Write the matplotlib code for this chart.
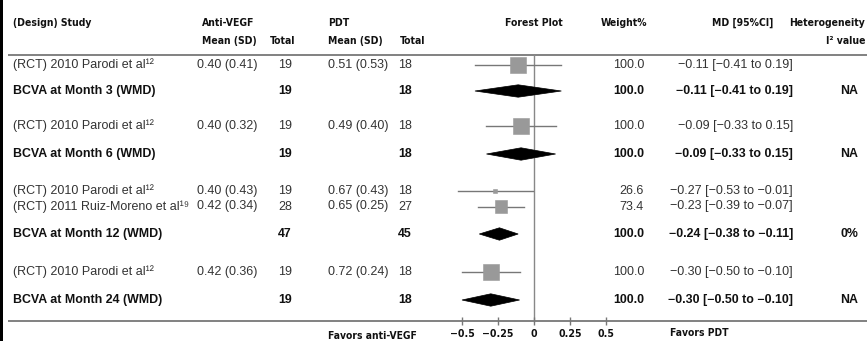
import matplotlib
matplotlib.use("Agg")
import matplotlib.pyplot as plt
from matplotlib.patches import Rectangle, Polygon

plt.rcParams['font.family'] = ['Liberation Sans', 'DejaVu Sans']

# ---------------- data ----------------
row_labels = ["(RCT) 2010 Parodi et al\u00b9\u00b2", "BCVA at Month 3 (WMD)",
              "(RCT) 2010 Parodi et al\u00b9\u00b2", "BCVA at Month 6 (WMD)",
              "(RCT) 2010 Parodi et al\u00b9\u00b2", "(RCT) 2011 Ruiz-Moreno et al\u00b9\u2079",
              "BCVA at Month 12 (WMD)",
              "(RCT) 2010 Parodi et al\u00b9\u00b2", "BCVA at Month 24 (WMD)"]
row_pooled = [False, True, False, True, False, False, True, False, True]
antivegf_msd = ["0.40 (0.41)", "", "0.40 (0.32)", "", "0.40 (0.43)", "0.42 (0.34)", "", "0.42 (0.36)", ""]
antivegf_n = [19, 19, 19, 19, 19, 28, 47, 19, 19]
pdt_msd = ["0.51 (0.53)", "", "0.49 (0.40)", "", "0.67 (0.43)", "0.65 (0.25)", "", "0.72 (0.24)", ""]
pdt_n = [18, 18, 18, 18, 18, 27, 45, 18, 18]
md = [-0.11, -0.11, -0.09, -0.09, -0.27, -0.23, -0.24, -0.30, -0.30]
ci_lo = [-0.41, -0.41, -0.33, -0.33, -0.53, -0.39, -0.38, -0.50, -0.50]
ci_hi = [0.19, 0.19, 0.15, 0.15, -0.01, -0.07, -0.11, -0.10, -0.10]
weight = [100.0, 100.0, 100.0, 100.0, 26.6, 73.4, 100.0, 100.0, 100.0]
heterogeneity = ["", "NA", "", "NA", "", "", "0%", "", "NA"]
xticks = [-0.5, -0.25, 0, 0.25, 0.5]
xtick_labels = ["\u22120.5", "\u22120.25", "0", "0.25", "0.5"]

# ---------------- layout (pixels) ----------------
W, H = 867, 341
row_y = [65, 91, 126, 154, 191, 206.5, 234, 272, 300]
zero_px, px_per_unit = 534, 144.0
fx0, fx1 = 440, 640
axis_y = 321

fig = plt.figure(figsize=(W / 100, H / 100), dpi=100)
bg = fig.add_axes([0, 0, 1, 1])
bg.set_xlim(0, W)
bg.set_ylim(H, 0)
bg.axis('off')

ax = fig.add_axes([fx0 / W, 0, (fx1 - fx0) / W, 1])
ax.set_xlim((fx0 - zero_px) / px_per_unit, (fx1 - zero_px) / px_per_unit)
ax.set_ylim(H, 0)
ax.axis('off')
ax.patch.set_alpha(0)

hkw = dict(family=['DejaVu Sans'], fontstretch='condensed', fontweight='bold',
           fontsize=7.5, color='#111111', va='center')

# left black border strip
bg.add_patch(Rectangle((0, 0), 3, H, color='black', lw=0))

# headers
bg.text(13, 23, "(Design) Study", ha='left', **hkw)
bg.text(202, 23, "Anti-VEGF", ha='left', **hkw)
bg.text(202, 41, "Mean (SD)", ha='left', **hkw)
bg.text(283, 41, "Total", ha='center', **hkw)
bg.text(328, 23, "PDT", ha='left', **hkw)
bg.text(328, 41, "Mean (SD)", ha='left', **hkw)
bg.text(413, 41, "Total", ha='center', **hkw)
ax.text(0, 23, "Forest Plot", ha='center', **hkw)
bg.text(624, 23, "Weight%", ha='center', **hkw)
bg.text(773, 23, "MD [95%CI]", ha='right', **hkw)
bg.text(865, 23, "Heterogeneity", ha='right', **hkw)
bg.text(865, 41, "I\u00b2 value", ha='right', **hkw)

# rules
bg.plot([8, W], [55, 55], color='#777777', lw=1.3, solid_capstyle='butt')
bg.plot([8, W], [axis_y, axis_y], color='#777777', lw=1.3, solid_capstyle='butt')
ax.plot([0, 0], [55, axis_y], color='#888888', lw=1.0)

fmt = lambda v: f"{v:.2f}".replace('-', '\u2212')

for i, y in enumerate(row_y):
    pooled = row_pooled[i]
    fw = 'bold' if pooled else 'normal'
    fs = 8.9 if pooled else 9.0
    col = '#111111' if pooled else '#333333'
    kw = dict(fontsize=fs, fontweight=fw, color=col, va='center')
    bg.text(13, y, row_labels[i], ha='left', **kw)
    if antivegf_msd[i]:
        bg.text(197, y, antivegf_msd[i], ha='left', **kw)
        bg.text(328, y, pdt_msd[i], ha='left', **kw)
    bg.text(278, y, str(antivegf_n[i]), ha='left', **kw)
    bg.text(398, y, str(pdt_n[i]), ha='left', **kw)
    bg.text(644, y, f"{weight[i]:.1f}", ha='right', **kw)
    bg.text(793, y, f"{fmt(md[i])} [{fmt(ci_lo[i])} to {fmt(ci_hi[i])}]", ha='right', **kw)
    if heterogeneity[i]:
        bg.text(858, y, heterogeneity[i], ha='right', **kw)

    if pooled:
        hh = 6.2
        poly = Polygon([(ci_lo[i], y), (md[i], y - hh), (ci_hi[i], y), (md[i], y + hh)],
                       closed=True, facecolor='black', edgecolor='black', lw=0.5, zorder=3)
        ax.add_patch(poly)
    else:
        ax.plot([ci_lo[i], ci_hi[i]], [y, y], color='#777777', lw=1.0, zorder=2)
        s = 0.165 * weight[i]
        ax.add_patch(Rectangle((md[i] - s / 2 / px_per_unit, y - s / 2), s / px_per_unit, s,
                               facecolor='#999999', edgecolor='#999999', lw=0.4, zorder=3))

# axis ticks
ax.vlines(xticks, axis_y - 4, axis_y + 4, color='#777777', lw=1.0)
for t, lab in zip(xticks, xtick_labels):
    ax.text(t, 334, lab, ha='center', **{**hkw, 'fontsize': 7.6})

bg.text(372, 336, "Favors anti-VEGF", ha='center', **{**hkw, 'fontsize': 7.4})
bg.text(670, 333, "Favors PDT", ha='left', **{**hkw, 'fontsize': 7.4})

fig.savefig("out.png", dpi=100)
